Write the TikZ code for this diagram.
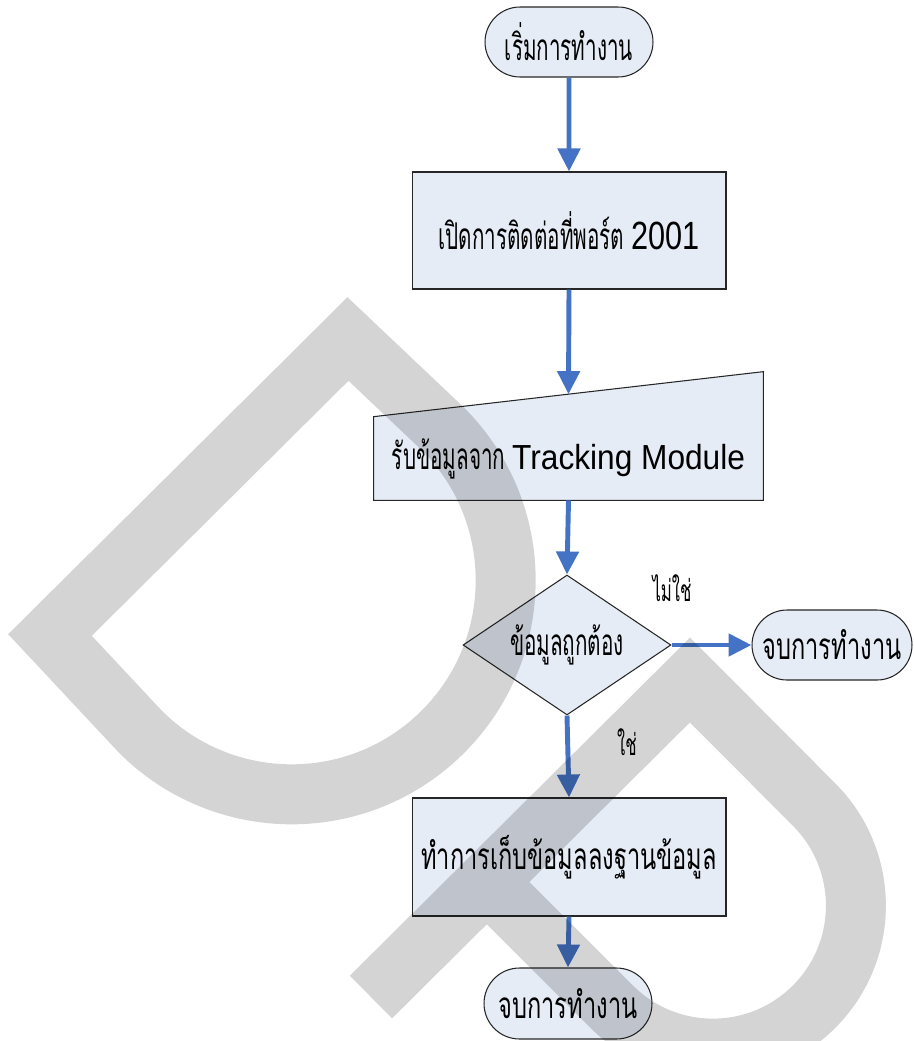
\documentclass[tikz,border=0pt]{standalone}
\usepackage{fontspec}
\newfontfamily\thaifont[Script=Thai,FakeStretch=0.56]{Loma}
\newfontfamily\thaiwide[Script=Thai,FakeStretch=0.64]{Loma}
\newfontfamily\latinfont[FakeStretch=0.78]{Liberation Sans}
\newfontfamily\latinwide[FakeStretch=0.91]{Liberation Sans}
\usepackage{tikz}
\usetikzlibrary{arrows.meta,calc,shapes.geometric,shapes.misc,backgrounds}
\definecolor{boxblue}{RGB}{230,236,246}
\definecolor{flowblue}{RGB}{68,114,196}

\begin{document}
\begin{tikzpicture}[x=0.02cm,y=-0.02cm,
  terminal/.style={rounded rectangle,draw=black!85,line width=0.6pt,fill=boxblue,
    minimum width=3.36cm,minimum height=1.4cm,inner sep=0pt,
    font=\thaifont\fontsize{21pt}{24pt}\selectfont},
  process/.style={rectangle,draw=black!85,line width=0.6pt,fill=boxblue,
    minimum width=6.28cm,minimum height=2.34cm,inner sep=0pt,
    font=\thaifont\fontsize{21pt}{24pt}\selectfont},
  decision/.style={diamond,draw=black!85,line width=0.6pt,fill=boxblue,aspect=1.486,
    minimum width=4.16cm,minimum height=2.8cm,inner sep=0pt,
    font=\thaifont\fontsize{21pt}{24pt}\selectfont},
  answer/.style={inner sep=0pt,font=\thaifont\fontsize{17pt}{20pt}\selectfont},
  flow/.style={flowblue,line width=2.8pt,-{Triangle[width=0.44cm,length=0.46cm]}},
  watermark/.style={draw=black,draw opacity=0.17,line width=1.2cm,line join=miter}]
  % page size
  \useasboundingbox (0,0) rectangle (913,1041);
  % Flow chart boxes
  \node[terminal] (start) at (569,42) {เริ่มการทำงาน};
  \node[process] (open) at (569,230.5)
    {เปิดการติดต่อที่พอร์ต {\latinfont\fontsize{22.4pt}{24pt}\selectfont 2001}};
  \node[inner sep=0pt,minimum width=7.78cm,minimum height=1.66cm,
    font=\thaifont\fontsize{21pt}{24pt}\selectfont] (input) at (568.5,458.5)
    {รับข้อมูลจาก {\latinwide\fontsize{19.8pt}{24pt}\selectfont Tracking Module}};
  \begin{scope}[on background layer]
    % Manual input box with slanted top
    \draw[draw=black!85,line width=0.6pt,fill=boxblue] (input.south west) -- (input.south east)
      -- ($(input.north east)+(0,-45)$) -- (input.north west) -- cycle;
  \end{scope}
  \coordinate (inputtop) at ($(input.north)+(0,-22.5)$);
  \node[decision] (check) at (567,645) {ข้อมูลถูกต้อง};
  \node[terminal,minimum width=3.2cm,font=\thaiwide\fontsize{21pt}{24pt}\selectfont] (stop1)
    at (832,645) {จบการทำงาน};
  \node[process,minimum height=2.36cm,font=\thaiwide\fontsize{21pt}{24pt}\selectfont] (save)
    at (569,857) {ทำการเก็บข้อมูลลงฐานข้อมูล};
  \node[terminal,minimum height=1.42cm,font=\thaiwide\fontsize{21pt}{24pt}\selectfont] (stop2)
    at (568,1003.5) {จบการทำงาน};
  % Answers
  \node[answer] (no) at (672,588) {ไม่ใช่};
  \node[answer] (yes) at (627,742) {ใช่};
  % Arrows
  \draw[flow] (start) -- (open);
  \draw[flow] (open.south) -- (inputtop);
  \draw[flow] (input.south) -- (check.north);
  \draw[flow] (check.east) -- (stop1.west);
  \draw[flow] (check.south) -- (save.north);
  \draw[flow] (save.south) -- (stop2.north);
  % Watermark on top
  \draw[watermark] (50,635) -- (348,339) -- (443,429)
    arc[start angle=-45,end angle=135,radius=214] -- cycle;
  \draw[watermark] (371,997) -- (690,680) -- (814,804.5)
    arc[start angle=-45,end angle=135,radius=143] -- (487,882);
\end{tikzpicture}
\end{document}
